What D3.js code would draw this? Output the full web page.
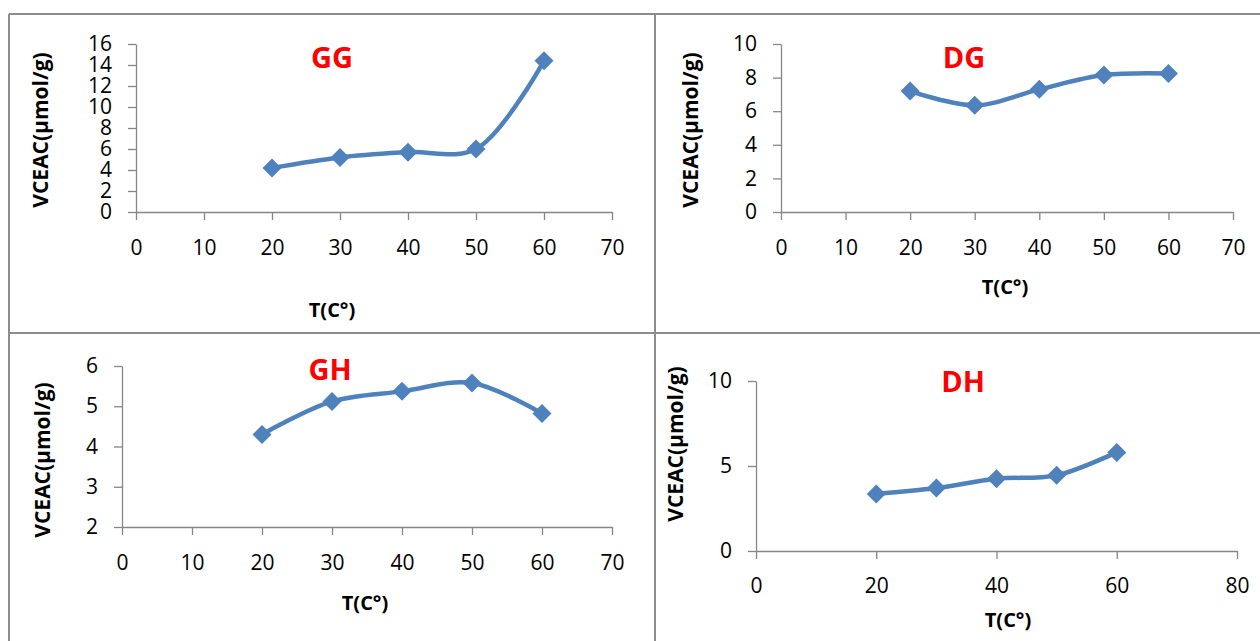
<!DOCTYPE html>
<html>
<head>
<meta charset="utf-8">
<script src="https://cdn.jsdelivr.net/npm/d3@7"></script>
<style>
  body { margin: 0; background: #fff; }
  svg { display: block; font-family: "Open Sans", "Noto Sans", sans-serif; }
</style>
</head>
<body>
<svg width="1260" height="641"></svg>
<script>
// Temperatures (x) shared by all panels
const temps = [20, 30, 40, 50, 60];

// VCEAC values
const ggValues = [4.2, 5.2, 5.7, 6.0, 14.4];
const dgValues = [7.2, 6.35, 7.3, 8.15, 8.25];
const ghValues = [4.3, 5.12, 5.37, 5.58, 4.82];
const dhValues = [3.35, 3.7, 4.25, 4.45, 5.8];

// Tick labels
const xTicks70 = [0, 10, 20, 30, 40, 50, 60, 70];
const xTicks80 = [0, 20, 40, 60, 80];
const ggYTicks = [0, 2, 4, 6, 8, 10, 12, 14, 16];
const dgYTicks = [0, 2, 4, 6, 8, 10];
const ghYTicks = [2, 3, 4, 5, 6];
const dhYTicks = [0, 5, 10];

const svg = d3.select('svg');
const lineColor = '#4f81bd';
const axisColor = '#868686';
const fontFamily = '"Open Sans", "Noto Sans", sans-serif';

// Panel frame lines
const frame = svg.append('g').attr('stroke', '#8c8c8c').attr('stroke-width', 2);
frame.append('line').attr('x1', 9).attr('x2', 1260).attr('y1', 14).attr('y2', 14);
frame.append('line').attr('x1', 9).attr('x2', 1260).attr('y1', 333).attr('y2', 333);
frame.append('line').attr('x1', 9).attr('x2', 9).attr('y1', 14).attr('y2', 641);
frame.append('line').attr('x1', 655).attr('x2', 655).attr('y1', 14).attr('y2', 641);

const panels = [
  { name: 'GG', values: ggValues, yTicks: ggYTicks, xTicks: xTicks70,
    x0: 136, x1: 612, y0: 212, y1: 44, tickY: 248,
    titleX: 332, titleY: 68, xTitleX: 332, xTitleY: 317, yTitleX: 48, yTitleY: 130 },
  { name: 'DG', values: dgValues, yTicks: dgYTicks, xTicks: xTicks70,
    x0: 781, x1: 1233, y0: 212, y1: 44, tickY: 248,
    titleX: 964, titleY: 68, xTitleX: 1005, xTitleY: 294, yTitleX: 698, yTitleY: 130 },
  { name: 'GH', values: ghValues, yTicks: ghYTicks, xTicks: xTicks70,
    x0: 122, x1: 612, y0: 527, y1: 366, tickY: 563,
    titleX: 330, titleY: 380, xTitleX: 365, xTitleY: 610, yTitleX: 50, yTitleY: 460 },
  { name: 'DH', values: dhValues, yTicks: dhYTicks, xTicks: xTicks80,
    x0: 756, x1: 1237, y0: 551, y1: 381, tickY: 586,
    titleX: 963, titleY: 392, xTitleX: 1008, xTitleY: 627, yTitleX: 683, yTitleY: 444 }
];

panels.forEach(p => {
  const g = svg.append('g');
  const x = d3.scaleLinear()
    .domain([p.xTicks[0], p.xTicks[p.xTicks.length - 1]])
    .range([p.x0, p.x1]);
  const y = d3.scaleLinear()
    .domain([p.yTicks[0], p.yTicks[p.yTicks.length - 1]])
    .range([p.y0, p.y1]);

  // X axis
  const xa = g.append('g')
    .attr('transform', `translate(0,${p.y0})`)
    .call(d3.axisBottom(x).tickValues(p.xTicks).tickFormat(d3.format('d')).tickSize(8).tickSizeOuter(0))
    .attr('font-family', fontFamily)
    .attr('font-size', 21);
  xa.select('.domain').attr('stroke', axisColor).attr('stroke-width', 1.3);
  xa.selectAll('line').attr('stroke', axisColor).attr('stroke-width', 1.3);
  xa.selectAll('text')
    .attr('y', p.tickY - p.y0)
    .attr('dy', '0.35em')
    .attr('fill', '#000');

  // Y axis
  const ya = g.append('g')
    .attr('transform', `translate(${p.x0},0)`)
    .call(d3.axisLeft(y).tickValues(p.yTicks).tickFormat(d3.format('d')).tickSize(8).tickSizeOuter(0))
    .attr('font-family', fontFamily)
    .attr('font-size', 21);
  ya.select('.domain').attr('stroke', axisColor).attr('stroke-width', 1.3);
  ya.selectAll('line').attr('stroke', axisColor).attr('stroke-width', 1.3);
  ya.selectAll('text')
    .attr('x', -24)
    .attr('fill', '#000');

  // Line
  const line = d3.line()
    .x((d, i) => x(temps[i]))
    .y(d => y(d))
    .curve(d3.curveCatmullRom.alpha(0.5));
  g.append('path')
    .datum(p.values)
    .attr('fill', 'none')
    .attr('stroke', lineColor)
    .attr('stroke-width', 4.5)
    .attr('d', line);

  // Diamond markers
  const diamond = d3.symbol().type(d3.symbolDiamond2).size(230);
  g.selectAll('.marker')
    .data(p.values)
    .join('path')
    .attr('class', 'marker')
    .attr('transform', (d, i) => `translate(${x(temps[i])},${y(d)})`)
    .attr('d', diamond)
    .attr('fill', lineColor);

  // Panel title
  g.append('text')
    .attr('x', p.titleX).attr('y', p.titleY)
    .attr('text-anchor', 'middle')
    .attr('fill', '#ff0000')
    .style('font-size', '29px')
    .style('font-weight', 'bold')
    .text(p.name);

  // Axis titles
  g.append('text')
    .attr('x', p.xTitleX).attr('y', p.xTitleY)
    .attr('text-anchor', 'middle')
    .style('font-size', '20px')
    .style('font-weight', 'bold')
    .text('T(C°)');
  g.append('text')
    .attr('transform', `translate(${p.yTitleX},${p.yTitleY}) rotate(-90)`)
    .attr('text-anchor', 'middle')
    .style('font-size', '21px')
    .style('font-weight', 'bold')
    .text('VCEAC(µmol/g)');
});
</script>
</body>
</html>
